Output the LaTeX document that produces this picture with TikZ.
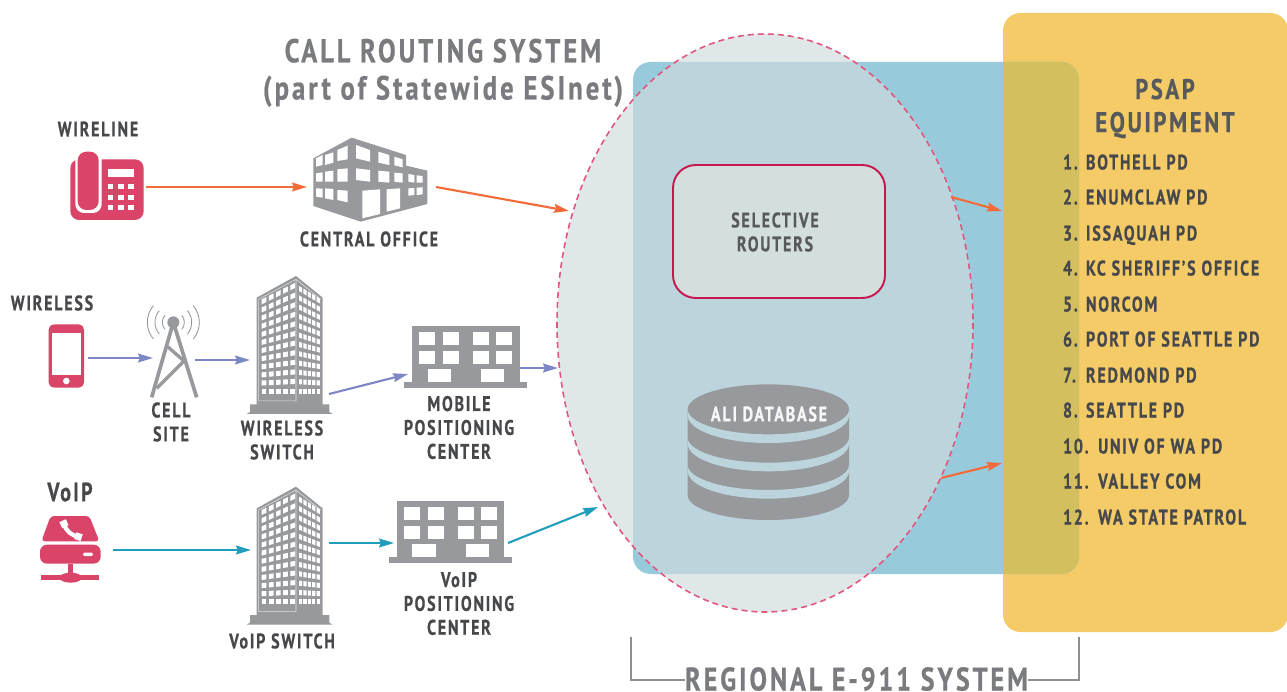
\documentclass[tikz,border=0pt]{standalone}
\usepackage{fontspec}
\usetikzlibrary{arrows.meta,shapes.geometric,calc}
\newfontfamily\lblfont[FakeStretch=0.76,LetterSpace=8.4,FakeBold=0.6]{PT Sans Bold}
\newfontfamily\bigfont[FakeStretch=0.8,LetterSpace=9,FakeBold=0.6]{PT Sans Bold}
\definecolor{pinkicon}{HTML}{DB4469}
\definecolor{grayicon}{HTML}{97999C}
\definecolor{darktext}{HTML}{47484B}
\definecolor{midtext}{HTML}{58595B}
\definecolor{titletext}{HTML}{7A7B7E}
\definecolor{arrorange}{HTML}{F26B38}
\definecolor{arrviolet}{HTML}{7F86C6}
\definecolor{arrteal}{HTML}{1F9DBB}
\definecolor{blueregion}{HTML}{97CBDC}
\definecolor{orangeregion}{HTML}{F4CB67}
\definecolor{overlapregion}{HTML}{D4BF5F}
\definecolor{ellipsefill}{HTML}{E0E7E8}
\definecolor{ellipseblue}{HTML}{BCD5DC}
\definecolor{routerfill}{HTML}{D3DEDD}
\definecolor{routerline}{HTML}{C8174F}
\definecolor{dashpink}{HTML}{E0567F}
\newcommand\px{0.02cm}
\tikzset{
  x=0.02cm,y=-0.02cm,
  flowarrow/.style={line width=1.2pt,-{Stealth[length=8.5pt,width=5pt,inset=1pt]}},
  flowo/.style={flowarrow,draw=arrorange,arrows={-{Stealth[length=8.5pt,width=5pt,inset=1pt,fill=arrorange]}}},
  flowv/.style={flowarrow,draw=arrviolet},
  flowt/.style={flowarrow,draw=arrteal},
  lbl/.style={inner sep=0pt,outer sep=0pt,text=darktext,align=center,font=\lblfont\fontsize{12}{13.6}\selectfont},
  lblmid/.style={lbl,text=midtext},
  lblwhite/.style={lbl,text=white!92!grayicon},
  titlelbl/.style={inner sep=0pt,outer sep=0pt,anchor=base,text=titletext,font=\bigfont\fontsize{18.8}{22}\selectfont},
  headlbl/.style={inner sep=0pt,outer sep=0pt,text=midtext,align=center,font=\bigfont\fontsize{16.2}{18.8}\selectfont},
  sysLbl/.style={inner sep=0pt,outer sep=0pt,anchor=base,text=titletext,font=\bigfont\fontsize{18.6}{22}\selectfont},
  listlbl/.style={inner sep=0pt,outer sep=0pt,anchor=base west,text=darktext,font=\lblfont\fontsize{12}{13.6}\selectfont},
  iconbox/.style={inner sep=0pt,outer sep=0pt,draw=none,fill=none},
  region/.style={inner sep=0pt,outer sep=0pt,draw=none},
  bracketline/.style={draw=titletext!85!white,line width=0.8pt},
}
\newcommand\iconat[5]{\node[iconbox,minimum width={(#4-#2)*\px},minimum height={(#5-#3)*\px}] (#1) at ({(#2+#4)/2},{(#3+#5)/2}) {};}
\newcommand\quadwin[6]{\fill[white] (#1,#2) -- (#4,#5) -- (#4,#6) -- (#1,#3) -- cycle;}
\newcommand\drawtower{%
  \fill[grayicon] (770,115) -- (888,50) -- (968,115) -- (968,435) -- (988,435) -- (988,458) -- (998,464) -- (740,464) -- (750,458) -- (750,435) -- (770,435) -- cycle;
  \draw[white!70!grayicon,line width=0.3pt] (776,120) -- (888,60) -- (962,120) (888,60) -- (888,425) (776,120) -- (776,425) -- (888,425);
  \foreach \r in {0,...,11}{
    \foreach \c in {0,...,4}{
      \pgfmathsetmacro\xa{785+\c*21.5}
      \pgfmathsetmacro\xb{\xa+14}
      \pgfmathsetmacro\ya{(120-(\xa-785)*0.49)*(1-\r/11)+388*\r/11}
      \pgfmathsetmacro\yb{(120-(\xb-785)*0.49)*(1-\r/11)+388*\r/11}
      \fill[white] (\xa,\ya) -- (\xb,\yb) -- (\xb,\yb+15) -- (\xa,\ya+15) -- cycle;
    }
    \foreach \c in {0,...,4}{
      \pgfmathsetmacro\xa{897+\c*13.2}
      \pgfmathsetmacro\xb{\xa+9.5}
      \pgfmathsetmacro\ya{(80+(\xa-897)*0.6)*(1-\r/11)+388*\r/11}
      \pgfmathsetmacro\yb{(80+(\xb-897)*0.6)*(1-\r/11)+388*\r/11}
      \fill[white] (\xa,\ya) -- (\xb,\yb) -- (\xb,\yb+15) -- (\xa,\ya+15) -- cycle;
    }
  }
}
\newcommand\drawlowbuilding{%
  \fill[grayicon] (127,48) rectangle (449,215);
  \fill[grayicon] (103,215) rectangle (472,233);
  \foreach \xa in {147,219,309,378}{
    \fill[white] (\xa,66) rectangle (\xa+48,105);
    \fill[white] (\xa,123) rectangle (\xa+48,162);
  }
  \fill[white] (173,177) rectangle (243,215);
  \fill[white] (333,177) rectangle (403,215);
}
\newcommand\listitem[5][13.1pt]{\node[listlbl] (#2) at (1063,#3+7.5) {\makebox[#1][l]{#4}#5};}
\begin{document}
\begin{tikzpicture}
\useasboundingbox (0,0) rectangle (1287,692);
\fill[white] (0,0) rectangle (1287,692);

% regions
\node[region,fill=orangeregion,rounded corners=10pt,minimum width={285*\px},minimum height={619*\px}] (psap) at (1145.5,322.5) {};
\node[region,fill=blueregion,rounded corners=10pt,minimum width={446*\px},minimum height={512*\px}] (regional) at (856,318) {};
\begin{scope}
  \clip[rounded corners=10pt] (633,62) rectangle (1079,574);
  \fill[overlapregion,rounded corners=10pt] (1003,13) rectangle (1288,632);
\end{scope}
\node[region,ellipse,fill=ellipsefill,minimum width={416*\px},minimum height={578*\px}] (esinet) at (765,323) {};
\begin{scope}
  \clip[rounded corners=10pt] (633,62) rectangle (1079,574);
  \fill[ellipseblue] (765,323) ellipse [x radius=208,y radius=289];
\end{scope}
\draw[dashpink,line width=0.9pt,dash pattern=on 3.4pt off 2.3pt] (765,323) ellipse [x radius=208,y radius=289];

% routers
\node[region,draw=routerline,line width=1.1pt,fill=routerfill,rounded corners=13pt,minimum width={212*\px},minimum height={133*\px},lblmid] (routers) at (779,231.5) {};
\node[lblmid] (routerstext) at (775,232) {SELECTIVE\\ROUTERS};

% database
\iconat{alidb}{688}{384}{849}{520}
\begin{scope}[shift={(650,370)},xscale=1/3,yscale=1/3]
  \fill[grayicon] (113,118) arc[start angle=180,end angle=0,x radius=242,y radius=-75] -- (597,375) arc[start angle=0,end angle=180,x radius=242,y radius=75] -- cycle;
  \foreach \c in {118,203,285}{
    \fill[ellipseblue] (113,\c) arc[start angle=180,end angle=0,x radius=242,y radius=75] -- (597,\c+18) arc[start angle=0,end angle=180,x radius=242,y radius=83] -- cycle;
  }
\end{scope}
\node[lblwhite] (alitext) at (769,414) {ALI DATABASE};

% desk phone
\iconat{deskphone}{70}{152}{146}{222}
\begin{scope}[shift={(0,100)},xscale=1/3,yscale=1/3]
  \fill[pinkicon,rounded corners=5pt] (211,178) rectangle (431,360);
  \fill[white,rounded corners=5pt] (226,150) rectangle (305,339);
  \fill[white] (226,150) rectangle (305,178);
  \fill[pinkicon,rounded corners=5pt] (233,155) rectangle (296,330);
  \fill[white] (323,207) rectangle (402,232);
  \foreach \xa in {323,354,385}{\foreach \ya in {253,284,315}{
    \fill[white] (\xa,\ya) rectangle (\xa+17,\ya+15);
  }}
\end{scope}
\node[lbl] (wireline) at (98,129) {WIRELINE};

% central office
\iconat{co}{307}{138}{436}{236}
\begin{scope}[shift={(0,100)},xscale=1/3,yscale=1/3]
  \fill[grayicon] (940,175) -- (1055,113) -- (1218,165) -- (1218,197) -- (1282,212) -- (1282,312) -- (1082,365) -- (940,318) -- cycle;
  \quadwin{948}{175}{200}{968}{165}{195}
  \quadwin{975}{165}{195}{1000}{157}{188}
  \quadwin{1012}{150}{183}{1043}{137}{178}
  \quadwin{1068}{135}{175}{1110}{150}{185}
  \quadwin{1135}{155}{188}{1168}{165}{195}
  \quadwin{1183}{170}{196}{1208}{178}{202}
  \quadwin{948}{220}{245}{968}{217}{245}
  \quadwin{975}{215}{245}{1000}{212}{245}
  \quadwin{1012}{208}{245}{1043}{205}{245}
  \quadwin{1068}{205}{240}{1110}{210}{245}
  \quadwin{1135}{212}{245}{1168}{215}{248}
  \quadwin{1183}{218}{245}{1208}{220}{248}
  \quadwin{1225}{222}{245}{1243}{225}{248}
  \quadwin{1250}{226}{248}{1268}{228}{248}
  \quadwin{948}{265}{290}{968}{266}{293}
  \quadwin{975}{265}{295}{1000}{267}{300}
  \quadwin{1012}{270}{300}{1043}{272}{307}
  \quadwin{1087}{272}{355}{1140}{268}{342}
  \quadwin{1160}{268}{335}{1200}{265}{325}
  \quadwin{1225}{265}{287}{1243}{264}{285}
  \quadwin{1250}{263}{285}{1268}{262}{283}
\end{scope}
\node[lbl] (cotext) at (369,239) {CENTRAL OFFICE};

% mobile phone
\iconat{mobile}{49}{324}{88}{392}
\begin{scope}[shift={(0,290)},xscale=1/3,yscale=1/3]
  \fill[pinkicon,rounded corners=3pt] (146,103) rectangle (252,293);
  \fill[white] (156,128) rectangle (242,255);
  \fill[white] (199,273) circle [radius=10];
\end{scope}
\node[lbl] (wireless) at (52,303) {WIRELESS};

% cell tower
\iconat{cell}{153}{305}{195}{415}
\begin{scope}[shift={(0,290)},xscale=1/3,yscale=1/3]
  \draw[grayicon,line width=2.1pt] (520,97) -- (455,322) (520,97) -- (590,322);
  \draw[grayicon,line width=1.9pt] (503,170) -- (552,213) -- (470,295);
  \fill[grayicon] (520,97) circle [radius=18];
  \foreach \r in {33,55,78}{
    \draw[grayicon,line width=0.5pt] ({520-\r*cos(40)},{97-\r*sin(40)}) arc[start angle=220,end angle=140,radius=\r];
    \draw[grayicon,line width=0.5pt] ({520+\r*cos(40)},{97-\r*sin(40)}) arc[start angle=-40,end angle=40,radius=\r];
  }
\end{scope}
\node[lbl] (celltext) at (171,422) {CELL\\SITE};

% towers
\iconat{wswitch}{250}{326}{329}{394}
\begin{scope}[shift={(0,259.3)},xscale=1/3,yscale=1/3]
  \begin{scope}[shift={(0,0)}]\drawtower\end{scope}
\end{scope}
\node[lbl] (wstext) at (282,440) {WIRELESS\\SWITCH};
\iconat{vswitch}{251}{476}{329}{624}
\begin{scope}[shift={(0,470)},xscale=1/3,yscale=1/3]
  \drawtower
\end{scope}
\node[lbl] (vstext) at (282,641) {VoIP SWITCH};

% low buildings
\iconat{mpc}{408}{326}{520}{422}
\begin{scope}[shift={(370,310)},xscale=1/3,yscale=1/3]
  \drawlowbuilding
\end{scope}
\node[lbl] (mpctext) at (459,427.5) {MOBILE\\POSITIONING\\CENTER};
\iconat{vpc}{394}{501}{508}{585}
\begin{scope}[shift={(354.5,485.3)},xscale=1/3,yscale=1/3]
  \drawlowbuilding
\end{scope}
\node[lbl] (vpctext) at (459,603.5) {VoIP\\POSITIONING\\CENTER};

% voip icon
\iconat{voipicon}{40}{516}{113}{584}
\begin{scope}[shift={(0,470)},xscale=1/3,yscale=1/3]
  \fill[pinkicon,rounded corners=2pt] (124,214) -- (152,138) -- (268,138) -- (298,214) -- cycle;
  \fill[pinkicon,rounded corners=4pt] (120,224) rectangle (302,281);
  \fill[white,rounded corners=1pt] (248,248) rectangle (280,258);
  \fill[pinkicon] (203,281) rectangle (220,318);
  \fill[pinkicon] (123,316) rectangle (298,331);
  \fill[pinkicon] (212,323) ellipse [x radius=34,y radius=15];
  \draw[white,line width=2.4pt] (192,160) .. controls (196,182) and (215,198) .. (238,200);
  \draw[white,line width=4pt] (188,152) -- (196,170);
  \draw[white,line width=4pt] (226,197) -- (245,203);
\end{scope}
\node[lbl,font=\lblfont\fontsize{15}{17}\selectfont] (voiptext) at (70,492) {VoIP};

% titles
\node[titlelbl] (title1) at (443,62.3) {CALL ROUTING SYSTEM};
\node[titlelbl,font=\bigfont\fontsize{19}{22}\selectfont] (title2) at (443,99.5) {(part of Statewide ESInet)};
\node[headlbl] (psaphead) at (1165,108.5) {PSAP\\EQUIPMENT};
\listitem{li1}{162}{1.}{BOTHELL PD}
\listitem{li2}{197}{2.}{ENUMCLAW PD}
\listitem{li3}{233}{3.}{ISSAQUAH PD}
\listitem{li4}{268}{4.}{KC SHERIFF’S OFFICE}
\listitem{li5}{304}{5.}{NORCOM}
\listitem{li6}{339}{6.}{PORT OF SEATTLE PD}
\listitem{li7}{375}{7.}{REDMOND PD}
\listitem{li8}{410}{8.}{SEATTLE PD}
\listitem[20pt]{li10}{446}{10.}{UNIV OF WA PD}
\listitem[20pt]{li11}{481}{11.}{VALLEY COM}
\listitem[20pt]{li12}{517}{12.}{WA STATE PATROL}

% connectors
\coordinate (e1) at (569,211);
\coordinate (e2) at (558,368);
\coordinate (e3) at (598,507);
\coordinate (out1) at (951,197);
\coordinate (in1) at (1002,211);
\coordinate (out2) at (941,478);
\coordinate (in2) at (1002,463);
\draw[flowo] (deskphone.east) -- (co.west);
\draw[flowo] (co.east) -- (e1);
\draw[flowv] (mobile.east) -- (cell.west |- mobile.east);
\draw[flowv] (cell.east) -- (wswitch.west);
\draw[flowv] (wswitch.south east) -- (mpc.west);
\draw[flowv] (mpc.east |- e2) -- (e2);
\draw[flowt] (voipicon.east) -- (vswitch.west);
\draw[flowt] (vswitch.east |- vpc.west) -- (vpc.west);
\draw[flowt] (vpc.east) -- (e3);
\draw[flowo] (out1) -- (in1);
\draw[flowo] (out2) -- (in2);

% bracket
\node[sysLbl] (systext) at (856.5,690.5) {REGIONAL E-911 SYSTEM};
\draw[bracketline] (631,637) -- (631,680) -- (systext.west |- 0,680);
\draw[bracketline] (1079,637) -- (1079,680) -- (systext.east |- 0,680);
\end{tikzpicture}
\end{document}
